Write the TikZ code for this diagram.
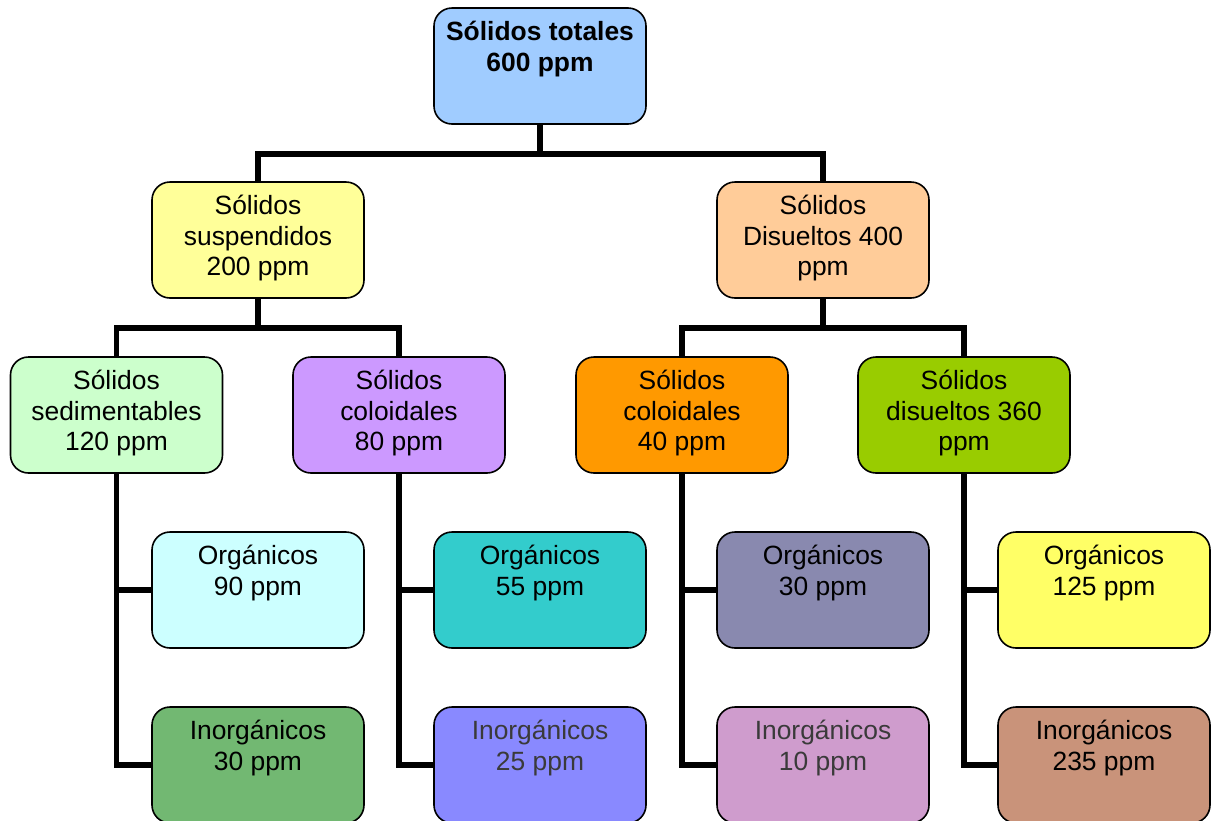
\documentclass[tikz,border=0pt]{standalone}
\usepackage{fontspec}
\setmainfont{Liberation Sans}
\definecolor{cTop}{HTML}{A0CCFF}
\definecolor{cSus}{HTML}{FFFF99}
\definecolor{cDis}{HTML}{FFCC99}
\definecolor{cSed}{HTML}{CCFFCC}
\definecolor{cColA}{HTML}{CC99FF}
\definecolor{cColB}{HTML}{FF9900}
\definecolor{cDisB}{HTML}{99CC00}
\definecolor{cOrgA}{HTML}{CCFFFF}
\definecolor{cOrgB}{HTML}{33CCCC}
\definecolor{cOrgC}{HTML}{8989AF}
\definecolor{cOrgD}{HTML}{FFFF66}
\definecolor{cInoA}{HTML}{72B872}
\definecolor{cInoB}{HTML}{8989FF}
\definecolor{cInoC}{HTML}{CF9CCD}
\definecolor{cInoD}{HTML}{C9937A}
\definecolor{softtext}{HTML}{3A3A3A}
% top-aligned, centred text block inside every box
\newcommand{\cellbody}[1]{\parbox[c][94pt][t]{208pt}{\centering\fontsize{26.4}{30.6}\selectfont\strut#1}}
\tikzset{
  box/.style={draw=black, line width=1.6pt, rounded corners=18pt,
              minimum width=212pt, minimum height=116pt, inner sep=0pt, fill=#1},
  wire/.style={draw=black, line width=5.5pt}
}
\begin{document}
\begin{tikzpicture}[x=1pt,y=-1pt]
\useasboundingbox (0,0) rectangle (1211,820);
\clip (0,0) rectangle (1211,820);

% root
\node[box=cTop] (tot) at (540,66) {\cellbody{\bfseries Sólidos totales\\600 ppm}};

% second level
\node[box=cSus] (sus) at (258,240) {\cellbody{Sólidos\\suspendidos\\200 ppm}};
\node[box=cDis] (dis) at (823,240) {\cellbody{Sólidos\\Disueltos 400\\ppm}};

% third level
\node[box=cSed]  (sed)  at (116.5,415) {\cellbody{Sólidos\\sedimentables\\120 ppm}};
\node[box=cColA] (cola) at (399,415)   {\cellbody{Sólidos\\coloidales\\80 ppm}};
\node[box=cColB] (colb) at (682,415)   {\cellbody{Sólidos\\coloidales\\40 ppm}};
\node[box=cDisB] (disb) at (964,415)   {\cellbody{Sólidos\\disueltos 360\\ppm}};

% organic fractions
\node[box=cOrgA] (orga) at (258,590)  {\cellbody{Orgánicos\\90 ppm}};
\node[box=cOrgB] (orgb) at (540,590)  {\cellbody{Orgánicos\\55 ppm}};
\node[box=cOrgC] (orgc) at (823,590)  {\cellbody{Orgánicos\\30 ppm}};
\node[box=cOrgD] (orgd) at (1104,590) {\cellbody{Orgánicos\\125 ppm}};

% inorganic fractions
\node[box=cInoA] (inoa) at (258,765)  {\cellbody{Inorgánicos\\30 ppm}};
\node[box=cInoB] (inob) at (540,765)  {\cellbody{\color{softtext}Inorgánicos\\25 ppm}};
\node[box=cInoC] (inoc) at (823,765)  {\cellbody{\color{softtext}Inorgánicos\\10 ppm}};
\node[box=cInoD] (inod) at (1104,765) {\cellbody{Inorgánicos\\235 ppm}};

% connectors
\draw[wire] (tot.south) -- ++(0,29) coordinate (j0);
\draw[wire] (j0) -| (sus.north);
\draw[wire] (j0) -| (dis.north);

\draw[wire] (sus.south) -- ++(0,29) coordinate (j1);
\draw[wire] (j1) -| (sed.north);
\draw[wire] (j1) -| (cola.north);

\draw[wire] (dis.south) -- ++(0,29) coordinate (j2);
\draw[wire] (j2) -| (colb.north);
\draw[wire] (j2) -| (disb.north);

\draw[wire] (sed.south)  |- (orga.west);
\draw[wire] (sed.south)  |- (inoa.west);
\draw[wire] (cola.south) |- (orgb.west);
\draw[wire] (cola.south) |- (inob.west);
\draw[wire] (colb.south) |- (orgc.west);
\draw[wire] (colb.south) |- (inoc.west);
\draw[wire] (disb.south) |- (orgd.west);
\draw[wire] (disb.south) |- (inod.west);
\end{tikzpicture}
\end{document}
